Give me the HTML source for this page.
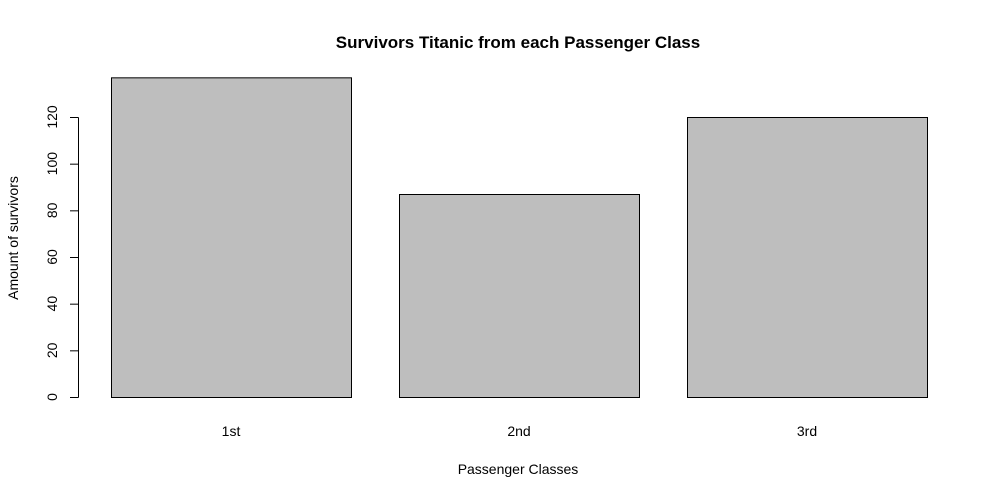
<!DOCTYPE html>
<html><head><meta charset="utf-8"><style>
body{margin:0;background:#fff}
svg{display:block;font-family:"Liberation Sans",Arial,sans-serif}
</style></head><body>
<svg id="chart" width="1000" height="499">
<text x="518" y="48" text-anchor="middle" font-size="17" font-weight="bold">Survivors Titanic from each Passenger Class</text>
<text x="518" y="474" text-anchor="middle" font-size="14">Passenger Classes</text>
<text transform="translate(18,238) rotate(-90)" text-anchor="middle" font-size="14">Amount of survivors</text>
<g id="bars"></g><g id="yaxis"></g><g id="xlabels"></g>
</svg>
<script>
const categories = ["1st","2nd","3rd"];
const survivors = [137, 87, 120];
const yTicks = [0,20,40,60,80,100,120];
const NS="http://www.w3.org/2000/svg";
const y0=397, yScale=280/120;
const y=v=>y0-v*yScale;
const x=i=>111+i*288;
const bw=240;
const bars=document.getElementById('bars'), ya=document.getElementById('yaxis'), xl=document.getElementById('xlabels');
function mk(t,a){const e=document.createElementNS(NS,t);for(const k in a)e.setAttribute(k,a[k]);return e;}
categories.forEach((c,i)=>{
  const r=mk('rect',{x:x(i)+0.5,y:y(survivors[i])+0.5,width:bw,height:y0-y(survivors[i]),fill:'#bebebe',stroke:'#000','stroke-width':1});
  
  
  bars.appendChild(r);
  const t=mk('text',{x:x(i)+bw/2,y:436,'text-anchor':'middle','font-size':14});
  t.textContent=c;
  
  
  xl.appendChild(t);
});
const ax=mk('line',{x1:78.5,x2:78.5,y1:y(yTicks[0])+0.5,y2:y(yTicks[yTicks.length-1])+0.5,stroke:'#000'});


ya.appendChild(ax);
yTicks.forEach(v=>{
  const l=mk('line',{x1:70,x2:78.5,y1:y(v)+0.5,y2:y(v)+0.5,stroke:'#000'});
  
  
  ya.appendChild(l);
  const t=mk('text',{transform:`translate(57,${y(v)}) rotate(-90)`,'text-anchor':'middle','font-size':14});
  t.textContent=v;
  
  
  ya.appendChild(t);
});
</script>
</body></html>
